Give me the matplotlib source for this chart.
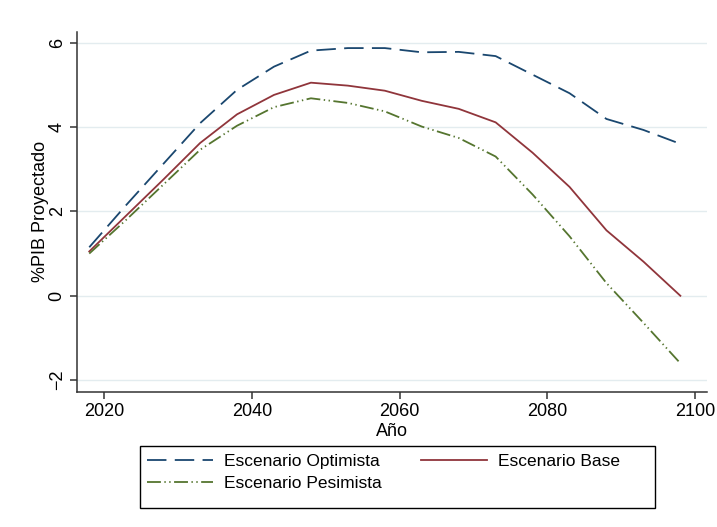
import numpy as np
import matplotlib
matplotlib.use("Agg")
import matplotlib.pyplot as plt
from matplotlib.patches import Rectangle

plt.rcParams['font.family'] = ['Liberation Sans', 'DejaVu Sans']
plt.rcParams['lines.scale_dashes'] = False

# data (every 5 years)
years = [2018, 2023, 2028, 2033, 2038, 2043, 2048, 2053, 2058,
         2063, 2068, 2073, 2078, 2083, 2088, 2093, 2098]
optimista = [1.15, 2.15, 3.12, 4.09, 4.88, 5.43, 5.81, 5.87, 5.87,
             5.77, 5.78, 5.68, 5.24, 4.80, 4.19, 3.93, 3.60]
base = [1.05, 1.90, 2.75, 3.62, 4.30, 4.76, 5.05, 4.98, 4.86,
        4.62, 4.43, 4.11, 3.39, 2.58, 1.55, 0.81, 0.00]
pesimista = [1.00, 1.80, 2.63, 3.46, 4.03, 4.47, 4.68, 4.57, 4.37,
             4.01, 3.74, 3.30, 2.40, 1.41, 0.30, -0.64, -1.60]

fig = plt.figure(figsize=(7.17, 5.27), dpi=100)
ax = fig.add_axes([0.108, 0.257, 0.878, 0.683])

l1, = ax.plot(years, optimista, color='#1a476f', lw=1.3, dashes=(14, 6),
              label='Escenario Optimista')
l2, = ax.plot(years, base, color='#90353b', lw=1.3, label='Escenario Base')
l3, = ax.plot(years, pesimista, color='#55752f', lw=1.3,
              dashes=(10, 2.5, 1, 2.5, 1, 2.5), label='Escenario Pesimista')

ax.set_xlim(2016.4, 2101.6)
ax.set_ylim(-2.27, 6.26)
ax.set_xticks([2020, 2040, 2060, 2080, 2100])
ax.set_yticks([-2, 0, 2, 4, 6])
ax.tick_params(axis='both', labelsize=13, length=5, width=1.1, color='#333333')
plt.setp(ax.get_yticklabels(), rotation=90, va='center')
ax.grid(axis='y', color='#e3ecef', lw=1)
ax.set_axisbelow(True)
for s in ['top', 'right']:
    ax.spines[s].set_visible(False)
for s in ['left', 'bottom']:
    ax.spines[s].set_linewidth(1.1)
    ax.spines[s].set_color('#333333')

ax.set_xlabel('Año', fontsize=13, labelpad=2)
ax.set_ylabel('%PIB Proyectado', fontsize=13, labelpad=0)

# legend: column-wise fill -> Optimista/Pesimista in col 1, Base in col 2
leg = fig.legend(handles=[l1, l3, l2], loc='upper left', ncol=2,
                 bbox_to_anchor=(0.181, 0.171),
                 fontsize=12.5, handlelength=3.8, handletextpad=0.6,
                 frameon=False, borderpad=0.5, labelspacing=0.4,
                 columnspacing=2.3)
fig.patches.append(Rectangle((140 / 717, 1 - 508 / 527), 515 / 717, 62 / 527,
                             transform=fig.transFigure, fill=False,
                             edgecolor='black', lw=1.0))

fig.savefig('out.png', dpi=100)
